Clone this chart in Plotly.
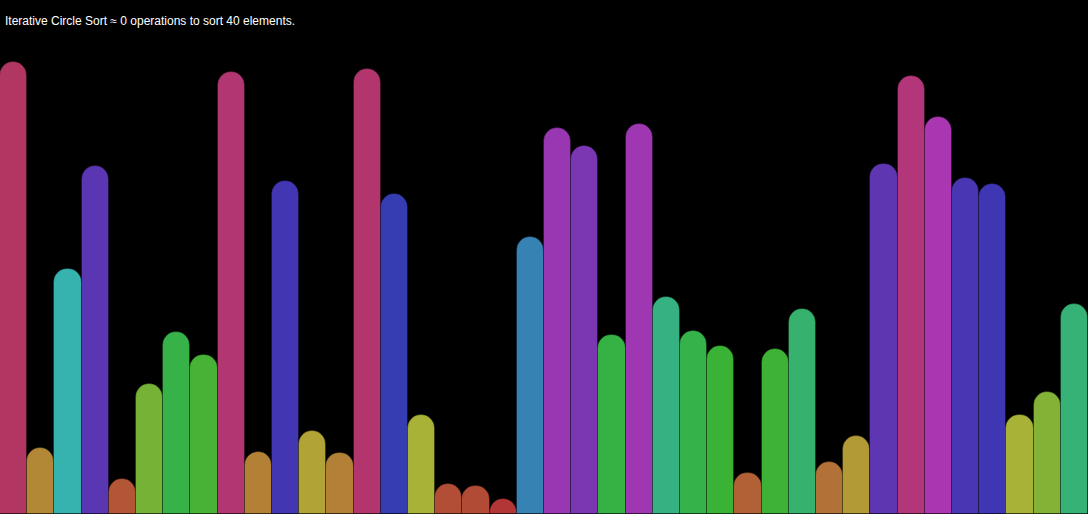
import colorsys
import plotly.graph_objects as go

# Heights of the 40 elements
values = [452, 66, 245, 348, 35, 130, 182, 159, 442, 62,
          333, 83, 61, 445, 320, 99, 30, 28, 15, 277,
          386, 368, 179, 390, 217, 183, 168, 41, 165, 205,
          52, 78, 350, 438, 397, 336, 330, 99, 122, 210]
positions = list(range(len(values)))
title_text = "Iterative Circle Sort \u2248 0 operations to sort 40 elements."


def colour(v):
    hue = max(0.0, (v - 15) * 0.775) / 360.0
    r, g, b = colorsys.hsv_to_rgb(hue % 1.0, 0.7, 0.7)
    return "rgb(%d,%d,%d)" % (round(r * 255), round(g * 255), round(b * 255))


colors = [colour(v) for v in values]

fig = go.Figure(
    go.Bar(
        x=positions,
        y=values,
        width=1,
        marker=dict(color=colors, cornerradius="50%",
                    line=dict(color="rgba(0,0,0,0.3)", width=1)),
        hoverinfo="skip",
    )
)

fig.update_layout(
    width=1088,
    height=514,
    margin=dict(l=0, r=0, t=0, b=0),
    paper_bgcolor="black",
    plot_bgcolor="black",
    showlegend=False,
    bargap=0,
    xaxis=dict(range=[-0.5, len(values) - 0.5], visible=False, fixedrange=True),
    yaxis=dict(range=[0, 514], visible=False, fixedrange=True),
    annotations=[
        dict(
            text=title_text,
            xref="paper", yref="paper",
            x=3 / 1088, y=1 - 21.5 / 514,
            xanchor="left", yanchor="middle",
            showarrow=False,
            font=dict(family="Liberation Sans, Arial, sans-serif", size=12, color="#ffffff"),
        )
    ],
)

fig.write_html("out.html", config={"displayModeBar": False})
